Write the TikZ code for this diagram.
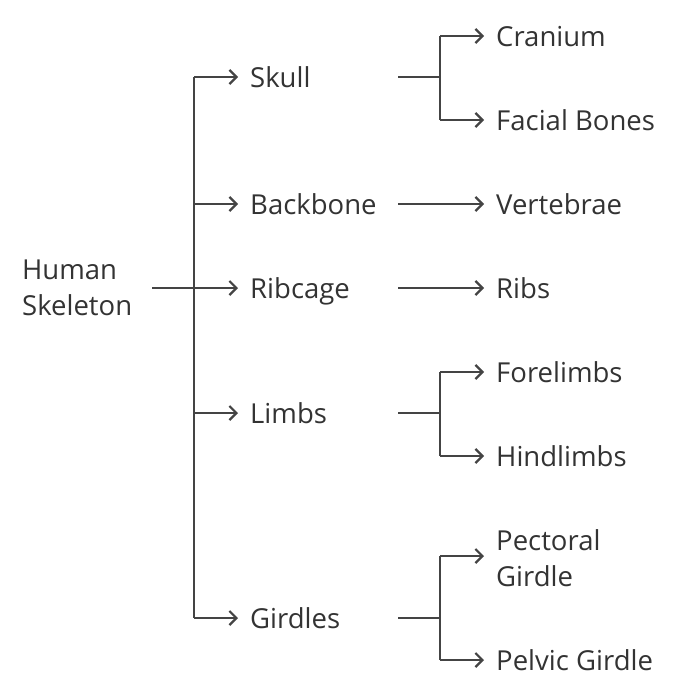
\documentclass[tikz,border=0pt]{standalone}
\usepackage{fontspec}
\setmainfont{Open Sans}
\usetikzlibrary{arrows.meta}
\definecolor{ln}{HTML}{444444}
\definecolor{tx}{HTML}{333333}
\begin{document}
\begin{tikzpicture}[x=1pt,y=-1pt,
  lab/.style={anchor=base west,inner sep=0pt,text=tx,font=\fontsize{27.5}{36}\selectfont,align=left},
  conn/.style={draw=ln,line width=2.2pt},
  arr/.style={conn,-{Straight Barb[length=7pt,width=14pt,line width=2.2pt]}}]
\useasboundingbox (0,0) rectangle (690,696);
\node[lab] (hs) at (22,315) {Human\\Skeleton};
\node[lab] (skull) at (250,87) {Skull};
\node[lab] (back) at (250,214) {Backbone};
\node[lab] (rib) at (250,298) {Ribcage};
\node[lab] (limb) at (250,423) {Limbs};
\node[lab] (gird) at (250,628) {Girdles};
\node[lab] (cran) at (496,46) {Cranium};
\node[lab] (fac) at (496,130) {Facial Bones};
\node[lab] (vert) at (496,214) {Vertebrae};
\node[lab] (ribs) at (496,298) {Ribs};
\node[lab] (fore) at (496,382) {Forelimbs};
\node[lab] (hind) at (496,466) {Hindlimbs};
\node[lab] (pect) at (496,586) {Pectoral\\Girdle};
\node[lab] (pelv) at (496,670) {Pelvic Girdle};
\coordinate (t) at (194,288);
\draw[conn] (152,288) -- (t);
\draw[conn] (194,77) -- (194,618);
\foreach \n/\y in {skull/77,back/204,rib/288,limb/413,gird/618}
  \draw[arr] (194,\y) -- (238,\y);
\foreach \p/\y/\a/\ay/\b/\by in {skull/77/cran/36/fac/120,limb/413/fore/372/hind/456,gird/618/pect/556/pelv/660}{
  \draw[conn] (398,\y) -- (440,\y);
  \draw[conn] (440,\ay) -- (440,\by);
  \draw[arr] (440,\ay) -- (484,\ay);
  \draw[arr] (440,\by) -- (484,\by);
}
\draw[arr] (398,204) -- (484,204);
\draw[arr] (398,288) -- (484,288);
\end{tikzpicture}
\end{document}
